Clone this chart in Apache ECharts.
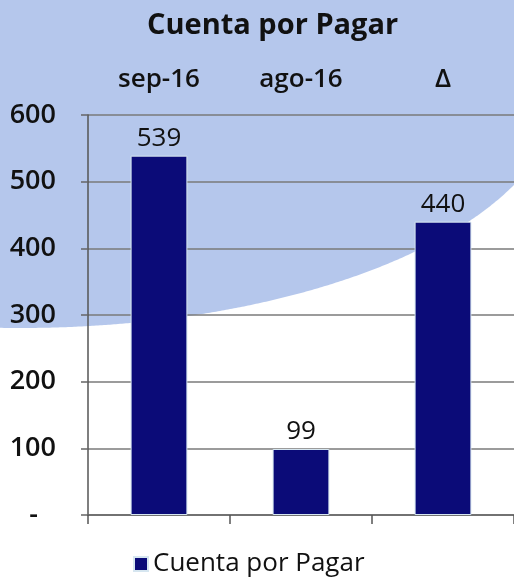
<!DOCTYPE html>
<html>
<head>
<meta charset="utf-8">
<script src="https://cdn.jsdelivr.net/npm/echarts@6/dist/echarts.min.js"></script>
<style>
html,body{margin:0;padding:0;background:#fff;}
#c{width:514px;height:578px;}
</style>
</head>
<body>
<div id="c"></div>
<script>
const categories = ['sep-16', 'ago-16', 'Δ'];
const values = [539, 99, 440];
const seriesName = 'Cuenta por Pagar';
const titleText = 'Cuenta por Pagar';

const FONT = '"Open Sans", "Liberation Sans", sans-serif';
const BG_BLUE = '#b5c7ec';

// decorative background shape (lower arc of a large ellipse), closed over the top of the page
function bgShape() {
  const cx = 20, cy = 88, a = 540, b = 240;
  const pts = [];
  for (let x = 0; x <= 514; x += 2) {
    const t = (x - cx) / a;
    const y = cy + b * Math.sqrt(Math.max(0, 1 - t * t));
    pts.push([x, y]);
  }
  pts.push([514, 0]);
  pts.push([0, 0]);
  return pts;
}

const chart = echarts.init(document.getElementById('c'), null, {renderer: 'canvas'});
chart.setOption({
  backgroundColor: '#ffffff',
  animation: false,
  graphic: {
    elements: [{
      type: 'polygon',
      z: -10,
      silent: true,
      shape: {points: bgShape()},
      style: {fill: BG_BLUE, stroke: null}
    }, {
      type: 'rect',
      z: 100,
      silent: true,
      shape: {x: 420, y: 0, width: 94, height: 56},
      style: {fill: BG_BLUE}
    }]
  },
  title: {
    text: titleText,
    left: 142, top: 6,
    textStyle: {fontFamily: FONT, fontSize: 29, fontWeight: 'bold', color: '#111'}
  },
  legend: {
    data: [seriesName],
    left: 128, top: 546,
    icon: 'rect', itemWidth: 14, itemHeight: 14, itemGap: 10,
    textStyle: {fontFamily: FONT, fontSize: 26, color: '#111'}
  },
  grid: {left: 88, right: 0, top: 115, bottom: 63, containLabel: false},
  xAxis: [{
    type: 'category',
    data: categories,
    position: 'bottom',
    axisLine: {show: true, lineStyle: {color: '#666', width: 1.5}},
    axisTick: {show: true, length: 9, lineStyle: {color: '#555', width: 1.5}},
    axisLabel: {show: false}
  }, {
    type: 'category',
    data: categories,
    position: 'top',
    axisLine: {show: false},
    axisTick: {show: false},
    axisLabel: {show: true, margin: 22, fontFamily: FONT, fontSize: 26, fontWeight: 600, color: '#111'}
  }],
  yAxis: {
    type: 'value',
    min: 0, max: 600, interval: 100,
    axisLine: {show: true, lineStyle: {color: '#555', width: 1.5}},
    axisTick: {show: true, length: 7, lineStyle: {color: '#666', width: 1.5}},
    splitLine: {show: true, lineStyle: {color: '#7a7a7a', width: 1.5}},
    axisLabel: {
      margin: 32,
      fontFamily: FONT, fontSize: 27, fontWeight: 600, color: '#111',
      formatter: function (v) { return v === 0 ? '{d|-}' : String(v); },
      rich: {d: {fontFamily: FONT, fontSize: 27, fontWeight: 600, color: '#111', padding: [0, 18, 0, 0]}}
    }
  },
  series: [{
    name: seriesName,
    type: 'bar',
    xAxisIndex: 0,
    data: values,
    barWidth: '40%',
    itemStyle: {color: '#0b0b78', borderColor: '#d6e6f0', borderWidth: 1},
    label: {show: true, position: 'top', distance: 4, fontFamily: FONT, fontSize: 26, color: '#111'}
  }]
});
</script>
</body>
</html>
